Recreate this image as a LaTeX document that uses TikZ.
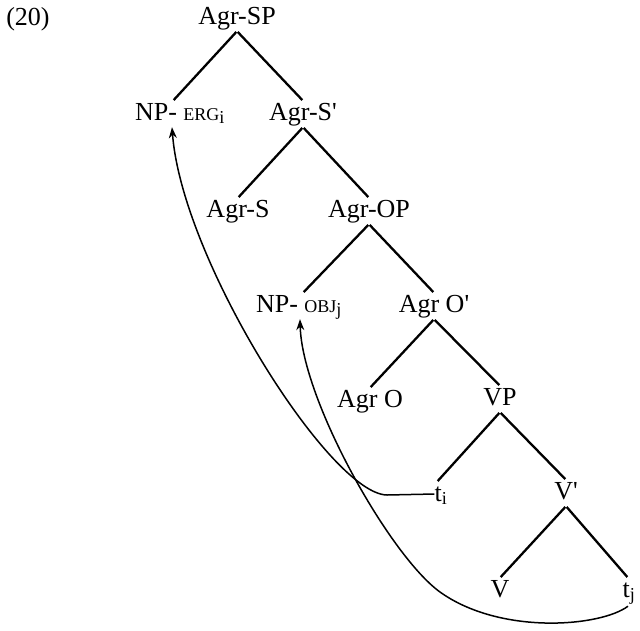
\documentclass[tikz,border=0pt]{standalone}
\usepackage{fontspec}
\setmainfont{Liberation Serif}
\usetikzlibrary{arrows.meta}
\newcommand{\smc}[1]{{\fontsize{18pt}{18pt}\selectfont #1}}
\newcommand{\pr}{\textquotesingle}
\begin{document}
\begin{tikzpicture}[x=1pt,y=-1pt,
  lab/.style={font=\fontsize{26pt}{28pt}\selectfont, inner sep=2pt, text height=17pt, text depth=5pt},
  branch/.style={line width=2.3pt, shorten <=1pt, shorten >=1pt},
  mv/.style={line width=1.5pt, -{Stealth[length=11pt,width=8pt]}}]
\useasboundingbox (0,0) rectangle (640,630);
\node[lab] (ex) at (28,19) {(20)};
\node[lab] (sp) at (237,18) {Agr-SP};
\node[lab] (erg) at (180,114) {NP- \smc{ERG}$_{\mathrm{i}}$};
\node[lab] (sbar) at (303,114) {Agr-S\pr};
\node[lab] (s) at (238,211) {Agr-S};
\node[lab] (op) at (369,211) {Agr-OP};
\node[lab] (obj) at (299,306) {NP- \smc{OBJ}$_{\mathrm{j}}$};
\node[lab] (obar) at (434,306) {Agr O\pr};
\node[lab] (ao) at (370,401) {Agr O};
\node[lab] (vp) at (500,399) {VP};
\node[lab] (ti) at (441,495) {t$_{\mathrm{i}}$};
\node[lab] (vbar) at (566,493) {V\pr};
\node[lab] (v) at (500,591) {V};
\node[lab] (tj) at (629,591) {t$_{\mathrm{j}}$};
\draw[branch] (sp.south) -- ([xshift=-7pt]erg.north);
\draw[branch] (sp.south) -- (sbar.north);
\draw[branch] (sbar.south) -- (s.north);
\draw[branch] (sbar.south) -- (op.north);
\draw[branch] (op.south) -- ([xshift=4pt]obj.north);
\draw[branch] (op.south) -- (obar.north);
\draw[branch] (obar.south) -- (ao.north);
\draw[branch] (obar.south) -- (vp.north);
\draw[branch] (vp.south) -- ([xshift=-4pt]ti.north);
\draw[branch] (vp.south) -- (vbar.north);
\draw[branch] (vbar.south) -- (v.north);
\draw[branch] (vbar.south) -- ([xshift=-1pt]tj.north);
\draw[mv] ([xshift=2pt,yshift=1pt]ti.west) -- (387,495) .. controls (330,494) and (182,260) .. ([xshift=-8pt]erg.south);
\draw[mv] ([xshift=-1pt,yshift=-2pt]tj.south) .. controls (600,627) and (500,635) .. (440,592) .. controls (390,556) and (302,400) .. ([xshift=1pt]obj.south);
\end{tikzpicture}
\end{document}
